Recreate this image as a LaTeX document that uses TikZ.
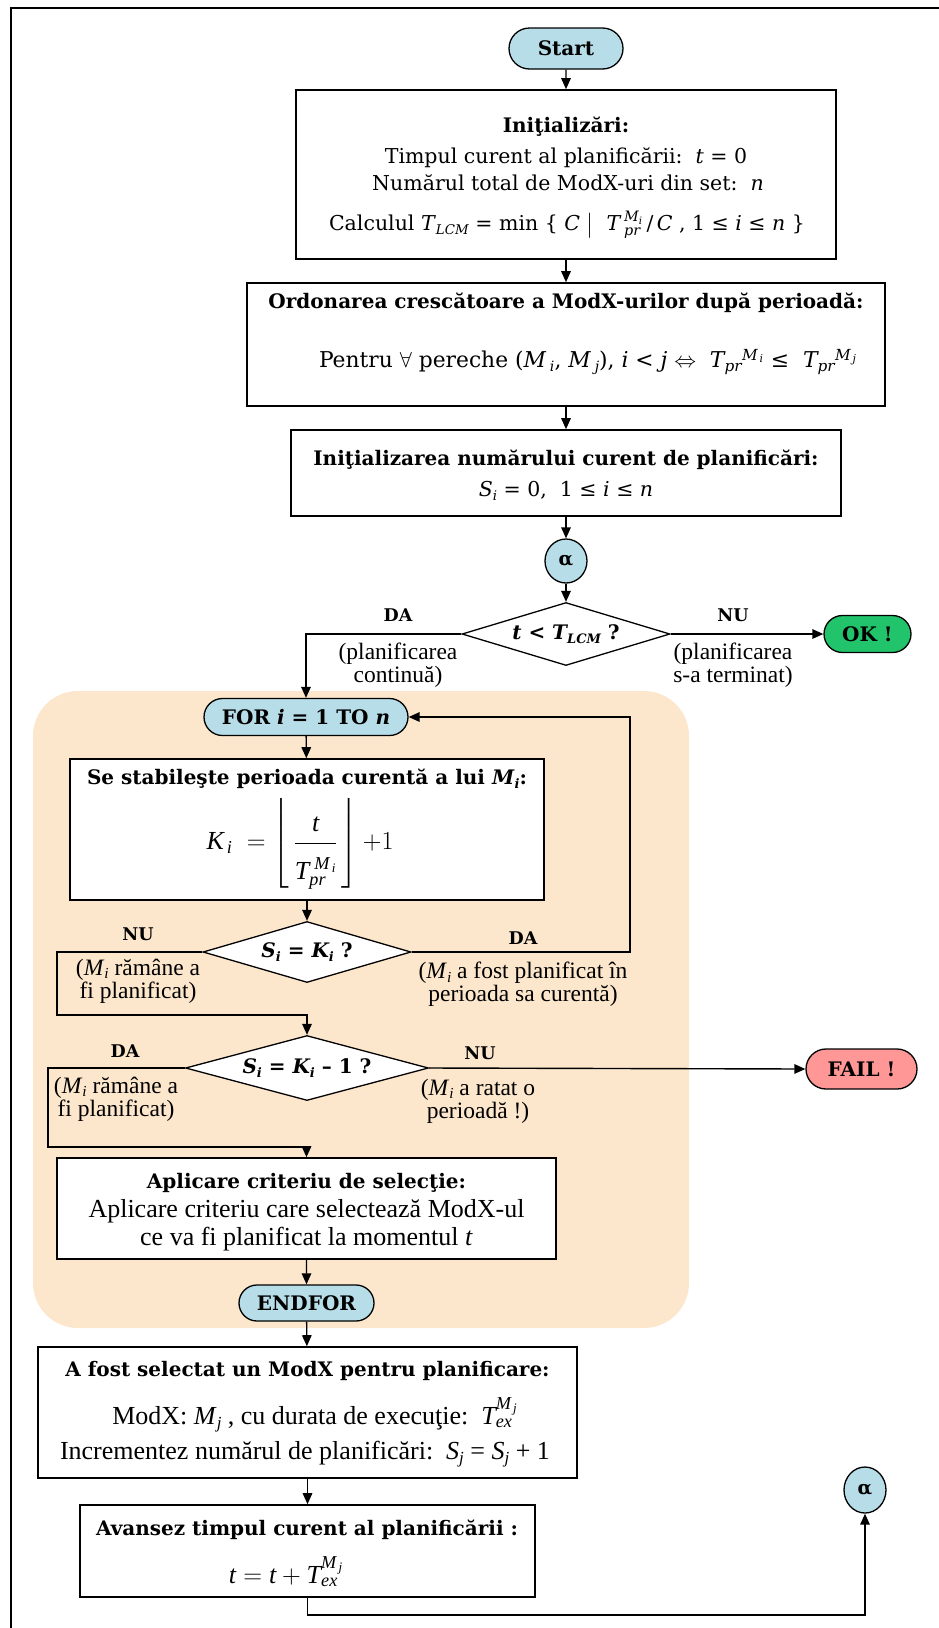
\RequirePackage{fix-cm}
\documentclass[tikz,border=0pt]{standalone}
\usepackage{amsmath}
\usepackage{fontspec}
\setmainfont{Liberation Serif}
\newfontfamily\hd{DejaVu Serif}
\usetikzlibrary{shapes.geometric,shapes.misc,arrows.meta}

\definecolor{termfill}{HTML}{B7DEE8}
\definecolor{okfill}{HTML}{21C46B}
\definecolor{failfill}{HTML}{FF9797}
\definecolor{loopfill}{HTML}{FCE6CC}

% lowered small text for indices written in text mode
\newcommand\lo[1]{\raisebox{-0.35ex}{\scalebox{0.65}{#1}}}
% italic letters in formulas, taken from the surrounding text font
\newcommand\mi[1]{\text{\itshape #1}}

% font shortcuts
\newcommand\ttlfont{\hd\bfseries\fontsize{20}{23}\selectfont}
\newcommand\bkfont{\hd\fontsize{20.5}{24}\selectfont}
\newcommand\tmfont{\fontsize{26}{28}\selectfont}
\newcommand\notefont{\fontsize{23.5}{23}\selectfont}
\newcommand\lblfont{\hd\bfseries\fontsize{17.5}{20}\selectfont}

\begin{document}
\begin{tikzpicture}[x=1pt,y=-1pt,
  box/.style={draw,line width=1.6pt,fill=white,inner sep=0pt},
  term/.style={draw,rounded rectangle,line width=1.3pt,fill=termfill,inner sep=0pt,
    font=\hd\bfseries\fontsize{20}{23}\selectfont},
  conn/.style={circle,draw,line width=1.3pt,fill=termfill,inner sep=0pt,
    font=\hd\bfseries\fontsize{19}{22}\selectfont},
  dec/.style={draw,diamond,aspect=3.3,line width=1.3pt,fill=white,inner sep=0pt,
    font=\hd\bfseries\fontsize{20}{22}\selectfont},
  arr/.style={line width=1.4pt,-{Triangle[length=11pt,width=9.5pt]}},
  ttl/.style={inner sep=0pt,font=\ttlfont},
  bk/.style={inner sep=0pt,font=\bkfont},
  tm/.style={inner sep=0pt,font=\tmfont},
  lbl/.style={inner sep=0pt,font=\lblfont},
  note/.style={inner sep=0pt,align=center,font=\notefont},
]
\useasboundingbox (0,0) rectangle (938,1628);

% outer frame
\draw[line width=1.6pt] (11,1640) -- (11,8) -- (950,8);

% background of the FOR loop
\fill[loopfill, rounded corners=45pt] (33,691) rectangle (689,1328);

% ---- top part -------------------------------------------------------
\node[term, minimum width=114pt, minimum height=41pt] (start) at (566,48.5) {Start};

\node[box, minimum width=540pt, minimum height=169pt] (init) at (566,174.5) {};
\node[ttl] (init-t) at (566,127) {Iniţializări:};
\node[bk] (init-1) at (566,158) {Timpul curent al planificării:\ \ \textit{t} = 0};
\node[bk] (init-2) at (568,183) {Numărul total de ModX-uri din set:\ \ \textit{n}};
\node[bk] (init-3) at (567,225) {Calculul \textit{T}\lo{\textit{LCM}} = min \{ \textit{C} $\big|$\ \ $\mi{T}_{\;\mi{pr}}^{\;\mi{M}_{\mi{i}}}$\,/\,\textit{C} , 1 ≤ \textit{i} ≤ \textit{n} \}};

\node[box, minimum width=638pt, minimum height=123pt] (order) at (566,344.5) {};
\node[ttl] (order-t) at (566,303) {Ordonarea crescătoare a ModX-urilor după perioadă:};
\node[inner sep=0pt, font=\hd\fontsize{21.8}{26}\selectfont] (order-1) at (588,362)
  {Pentru $\forall$ pereche (\textit{M}\,\lo{\textit{i}}, \textit{M}\,\lo{\textit{j}}), \textit{i} < \textit{j} $\Leftrightarrow$\ \ $\mi{T}_{\mi{pr}}{}^{\mi{M}_{\,\mi{i}}}$ ≤\ \ $\mi{T}_{\mi{pr}}{}^{\mi{M}_{\,\mi{j}}}$};

\node[box, minimum width=550pt, minimum height=86pt] (inits) at (566,473) {};
\node[ttl] (inits-t) at (566,460) {Iniţializarea numărului curent de planificări:};
\node[bk] (inits-1) at (566,491) {\textit{S}\lo{\textit{i}} = 0,\ \ 1 ≤ \textit{i} ≤ \textit{n}};

\node[conn, ellipse, minimum width=42pt, minimum height=44pt] (a1) at (566,561) {α};

\node[dec, minimum width=208pt, minimum height=63pt] (d1) at (566,634)
  {\itshape t\upshape\ <\ \itshape T\lo{LCM}\upshape\ ?};
\node[term, fill=okfill, minimum width=87pt, minimum height=37pt] (ok) at (867.5,634) {OK !};

\node[lbl] (d1-da) at (398,615) {DA};
\node[note] (d1-da-n) at (398,665) {(planificarea\\continuă)};
\node[lbl] (d1-nu) at (733,615) {NU};
\node[note] (d1-nu-n) at (733,665) {(planificarea\\s-a terminat)};

% ---- FOR loop -------------------------------------------------------
\node[term, minimum width=204pt, minimum height=37pt] (for) at (306,717)
  {FOR \textit{i} = 1 TO \textit{n}};

\node[box, minimum width=474pt, minimum height=141pt] (per) at (307,829.5) {};
\node[ttl] (per-t) at (307,779) {Se stabileşte perioada curentă a lui \textit{M}\lo{\textit{i}}:};
\node[inner sep=0pt, font=\fontsize{26}{28}\selectfont] (per-f) at (300,844)
  {$\mi{K}_{\,\mi{i}}\;=\left\lfloor\,\dfrac{\rule{0pt}{31pt}\mi{t}}{\raisebox{-12pt}{$\mi{T}_{\mi{pr}}^{\;\mi{M}_{\,\mi{i}}}$}}\,\right\rfloor{+}1$};

\node[dec, minimum width=208pt, minimum height=61pt] (d2) at (307,952)
  {\itshape S\lo{i}\upshape\ =\ \itshape K\lo{i}\upshape\ ?};
\node[lbl] (d2-nu) at (138,934) {NU};
\node[note] (d2-nu-n) at (138,981) {(\textit{M}\lo{\textit{i}} rămâne a\\fi planificat)};
\node[lbl] (d2-da) at (523,938) {DA};
\node[note] (d2-da-n) at (523,984) {(\textit{M}\lo{\textit{i}} a fost planificat în\\perioada sa curentă)};

\node[dec, minimum width=243pt, minimum height=65pt] (d3) at (307,1068)
  {\itshape S\lo{i}\upshape\ =\ \itshape K\lo{i}\upshape\ – 1 ?};
\node[lbl] (d3-da) at (125,1051) {DA};
\node[note] (d3-da-n) at (116,1099) {(\textit{M}\lo{\textit{i}} rămâne a\\fi planificat)};
\node[lbl] (d3-nu) at (480,1053) {NU};
\node[note] (d3-nu-n) at (478,1101) {(\textit{M}\lo{\textit{i}} a ratat o\\perioadă !)};
\node[term, fill=failfill, minimum width=111pt, minimum height=40pt] (fail) at (861.5,1069) {FAIL !};

\node[box, minimum width=499pt, minimum height=101pt] (apl) at (306.5,1208.5) {};
\node[ttl] (apl-t) at (306.5,1183) {Aplicare criteriu de selecţie:};
\node[tm] (apl-1) at (306.5,1211) {Aplicare criteriu care selectează ModX-ul};
\node[tm] (apl-2) at (306.5,1239) {ce va fi planificat la momentul \textit{t}};

\node[term, minimum width=135pt, minimum height=36pt] (endfor) at (306.5,1303) {ENDFOR};

% ---- bottom part ----------------------------------------------------
\node[box, minimum width=539pt, minimum height=131pt] (sel) at (307.5,1412.5) {};
\node[ttl] (sel-t) at (307.5,1371) {A fost selectat un ModX pentru planificare:};
\node[tm] (sel-1) at (315,1415) {ModX: \textit{M}\lo{\textit{j}} , cu durata de execuţie:\ \ $\mi{T}_{\mi{ex}}^{\mi{M}_{\,\mi{j}}}$};
\node[tm] (sel-2) at (305,1454) {Incrementez numărul de planificări:\ \ \textit{S}\lo{\textit{j}} = \textit{S}\lo{\textit{j}} + 1};

\node[box, minimum width=455pt, minimum height=92pt] (adv) at (307.5,1551) {};
\node[ttl] (adv-t) at (307,1530) {Avansez timpul curent al planificării :};
\node[tm] (adv-1) at (286,1572) {$\mi{t}=\mi{t}+\mi{T}_{\mi{ex}}^{\mi{M}_{\,\mi{j}}}$};

\node[conn, ellipse, minimum width=42pt, minimum height=46pt] (a2) at (865,1490) {α};

% ---- connectors -----------------------------------------------------
\coordinate (loopR) at (630,717);
\coordinate (nu2) at (57,1015);
\coordinate (da3) at (48,1147);
\coordinate (back) at (865,1615);

\draw[arr] (start) -- (init);
\draw[arr] (init) -- (order);
\draw[arr] (order) -- (inits);
\draw[arr] (inits) -- (a1);
\draw[arr] (a1) -- (d1);
\draw[arr] (d1.west) -| (for.north);
\draw[arr] (d1.east) -- (ok.west);
\draw[arr] (for) -- (per);
\draw[arr] (per) -- (d2);
\draw[arr] (d2.east) -| (loopR) -- (for.east);
\draw[arr] (d2.west) -| (nu2) -| (d3.north);
\draw[arr] (d3.west) -| (da3) -| (apl.north);
\draw[arr] (d3.east) -- (fail.west);
\draw[arr] (apl) -- (endfor);
\draw[arr] (endfor) -- (sel);
\draw[arr] (sel) -- (adv);
\draw[arr] (adv.south) |- (back) -- (a2.south);
\end{tikzpicture}
\end{document}
